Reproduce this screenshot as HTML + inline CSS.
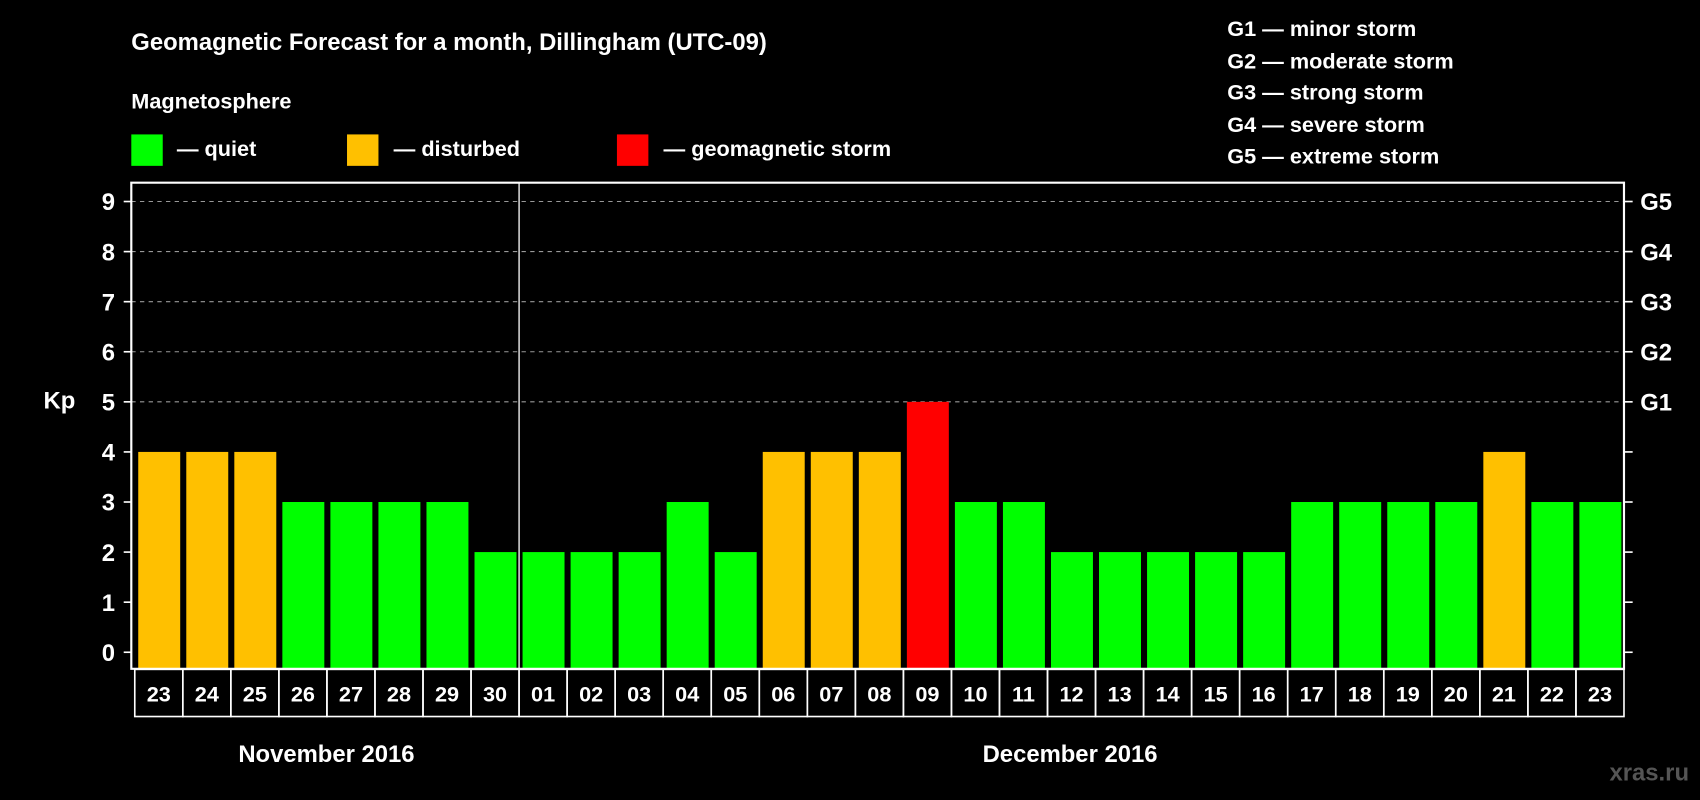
<!DOCTYPE html>
<html><head><meta charset="utf-8"><style>
html,body{margin:0;padding:0;background:#000;}
svg{display:block;font-family:"Liberation Sans",Arial,sans-serif;font-weight:bold;}
</style></head><body>
<svg id="chart" width="1700" height="800" viewBox="0 0 1568 738" xmlns="http://www.w3.org/2000/svg">
<rect x="0" y="0" width="1568" height="738" fill="#000"/>
<text x="121" y="46" fill="#fff" font-size="22">Geomagnetic Forecast for a month, Dillingham (UTC-09)</text>
<text x="121" y="100" fill="#fff" font-size="20">Magnetosphere</text>
<g>
<rect x="121" y="124" width="29" height="29" fill="#00ff00"/>
<text x="163" y="144" fill="#fff" font-size="20">— quiet</text>
<rect x="320" y="124" width="29" height="29" fill="#ffc000"/>
<text x="363" y="144" fill="#fff" font-size="20">— disturbed</text>
<rect x="569" y="124" width="29" height="29" fill="#ff0000"/>
<text x="612" y="144" fill="#fff" font-size="20">— geomagnetic storm</text>
</g>
<g fill="#fff" font-size="20">
<text x="1132" y="33">G1 — minor storm</text>
<text x="1132" y="63">G2 — moderate storm</text>
<text x="1132" y="92">G3 — strong storm</text>
<text x="1132" y="122">G4 — severe storm</text>
<text x="1132" y="151">G5 — extreme storm</text>
</g>
<text x="40" y="377" fill="#fff" font-size="22">Kp</text>
<text x="301" y="703" fill="#fff" font-size="22" text-anchor="middle">November 2016</text>
<text x="987" y="703" fill="#fff" font-size="22" text-anchor="middle">December 2016</text>
<text x="1558" y="720" fill="#555" font-size="22" text-anchor="end">xras.ru</text>
<g id="plot"></g>
</svg>
<script>
const days = ["23","24","25","26","27","28","29","30","01","02","03","04","05","06","07","08","09","10","11","12","13","14","15","16","17","18","19","20","21","22","23"];
const kpValues = [4,4,4,3,3,3,3,2,2,2,2,3,2,4,4,4,5,3,3,2,2,2,2,2,3,3,3,3,4,3,3];
const yTicks = [0,1,2,3,4,5,6,7,8,9];
const gridLevels = [5,6,7,8,9];
const gLabels = ["G1","G2","G3","G4","G5"];
const monthBreakIndex = 8;

const NS = "http://www.w3.org/2000/svg";
const plot = document.getElementById("plot");
const axL = 121, axR = 1498, axT = 168.5, axB = 617;
const slotL = 124.2, slotW = (axR - slotL) / days.length;
function yScale(v){ return 601.7 - v * 46.2; }
function xSlot(i){ return slotL + i * slotW; }
function colorFor(v){ return v >= 5 ? "#ff0000" : (v === 4 ? "#ffc000" : "#00ff00"); }
function mk(tag, attrs){ const e = document.createElementNS(NS, tag); for (const k in attrs) e.setAttribute(k, attrs[k]); plot.appendChild(e); return e; }

gridLevels.forEach((v) => {
  const l = mk("line", {x1: axL, x2: axR, y1: yScale(v), y2: yScale(v), stroke: "#999", "stroke-width": 1, "stroke-dasharray": "4,4"});
  
  
});

kpValues.forEach((v, i) => {
  const x = xSlot(i) + 3.2;
  const r = mk("rect", {x: x, y: yScale(v), width: slotW - 5.6, height: axB - yScale(v), fill: colorFor(v)});
  
  
});

const sep = mk("line", {x1: xSlot(monthBreakIndex), x2: xSlot(monthBreakIndex), y1: axT, y2: axB, stroke: "#fff", "stroke-width": 1.2});



const frame = mk("path", {d: `M${axL},${axB} L${axL},${axT} L${axR},${axT} L${axR},${axB} Z`, fill: "none", stroke: "#fff", "stroke-width": 2});



yTicks.forEach((v) => {
  const y = yScale(v);
  const t1 = mk("line", {x1: axL - 7, x2: axL, y1: y, y2: y, stroke: "#fff", "stroke-width": 1.5});
  
  
  const t2 = mk("line", {x1: axR, x2: axR + 8, y1: y, y2: y, stroke: "#fff", "stroke-width": 1.5});
  
  
  const lab = mk("text", {x: 106, y: y + 8, fill: "#fff", "font-size": 22, "text-anchor": "end"});
  lab.textContent = String(v);
  
  
});

gridLevels.forEach((v, i) => {
  const g = mk("text", {x: 1513, y: yScale(v) + 8, fill: "#fff", "font-size": 22});
  g.textContent = gLabels[i];
  
  
});

days.forEach((d, i) => {
  const b = mk("rect", {x: xSlot(i), y: axB + 0.5, width: slotW, height: 43.5, fill: "none", stroke: "#fff", "stroke-width": 1.5});
  
  
  const t = mk("text", {x: xSlot(i) + slotW / 2, y: 647, fill: "#fff", "font-size": 20, "text-anchor": "middle"});
  t.textContent = d;
  
  
});
</script>
</body></html>
